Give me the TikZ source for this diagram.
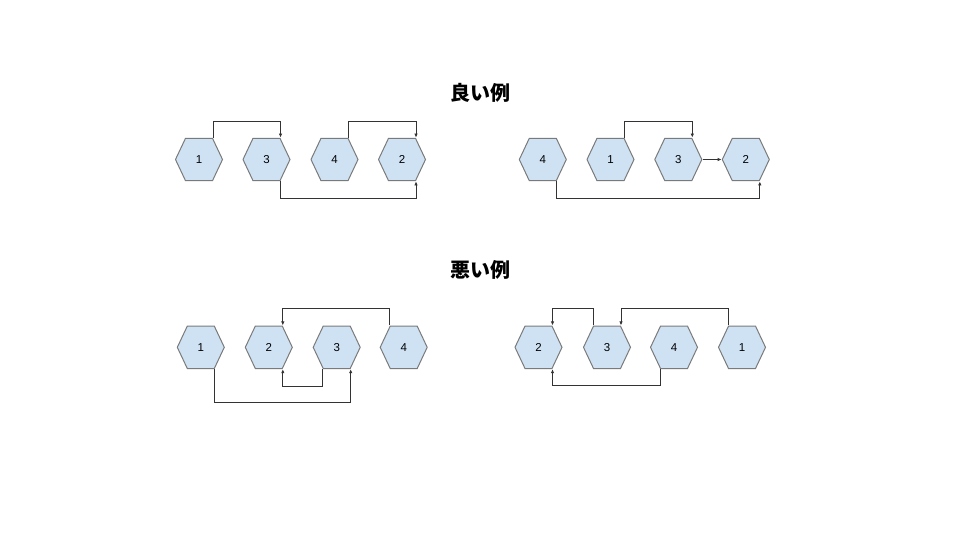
\documentclass[tikz,border=0pt]{standalone}
\usepackage{fontspec}
\setmainfont{Liberation Sans}
\newfontfamily\jpfont{Noto Sans CJK JP}
\usetikzlibrary{arrows.meta}
\definecolor{hexfill}{HTML}{CFE2F3}
\definecolor{hexline}{HTML}{7A7A7A}
\definecolor{linkcol}{HTML}{333333}
\tikzset{
  hexa/.style={rectangle, minimum width=48pt, minimum height=43.4pt, inner sep=0pt,
    font=\fontsize{11.5}{11.5}\selectfont,
    path picture={
      \draw[draw=hexline, fill=hexfill, line width=1pt]
        ([xshift=0.5pt]path picture bounding box.west)
        -- ([xshift=10.5pt,yshift=-0.5pt]path picture bounding box.north west)
        -- ([xshift=-10.5pt,yshift=-0.5pt]path picture bounding box.north east)
        -- ([xshift=-0.5pt]path picture bounding box.east)
        -- ([xshift=-10.5pt,yshift=0.5pt]path picture bounding box.south east)
        -- ([xshift=10.5pt,yshift=0.5pt]path picture bounding box.south west) -- cycle;
    }},
  link/.style={draw=linkcol, line width=0.9pt, -{Latex[length=4pt,width=3.5pt]}},
  headline/.style={font=\jpfont\bfseries\fontsize{20}{20}\selectfont}
}
\begin{document}
\begin{tikzpicture}[x=1pt,y=-1pt]
        \useasboundingbox (0,0) rectangle (960,540);

        % titles
        \node[headline] (good) at (480,92.5) {良い例};
        \node[headline] (bad) at (480,270) {悪い例};

        % good, left
        \node[hexa] (a1) at (199,159.5) {1};
        \node[hexa] (a3) at (266.5,159.5) {3};
        \node[hexa] (a4) at (334.5,159.5) {4};
        \node[hexa] (a2) at (402,159.5) {2};
        \draw[link] ([xshift=14]a1.north) -- ++(0,-16.5) -| ([xshift=14]a3.north);
        \draw[link] ([xshift=14]a4.north) -- ++(0,-16.5) -| ([xshift=14]a2.north);
        \draw[link] ([xshift=14]a3.south) -- ++(0,17) -| ([xshift=14]a2.south);

        % good, right
        \node[hexa] (b4) at (542.8,159.5) {4};
        \node[hexa] (b1) at (610.5,159.5) {1};
        \node[hexa] (b3) at (678.3,159.5) {3};
        \node[hexa] (b2) at (745.8,159.5) {2};
        \draw[link] ([xshift=14]b1.north) -- ++(0,-16.5) -| ([xshift=14]b3.north);
        \draw[link] (b3.east) -- (b2.west);
        \draw[link] ([xshift=14]b4.south) -- ++(0,17) -| ([xshift=14]b2.south);

        % bad, left
        \node[hexa] (c1) at (200.8,347.3) {1};
        \node[hexa] (c2) at (268.8,347.3) {2};
        \node[hexa] (c3) at (336.7,347.3) {3};
        \node[hexa] (c4) at (403.7,347.3) {4};
        \draw[link] ([xshift=-14]c4.north) -- ++(0,-17) -| ([xshift=14]c2.north);
        \draw[link] ([xshift=-14]c3.south) -- ++(0,17) -| ([xshift=14]c2.south);
        \draw[link] ([xshift=14]c1.south) -- ++(0,33) -| ([xshift=14]c3.south);

        % bad, right
        \node[hexa] (d2) at (538.5,347.3) {2};
        \node[hexa] (d3) at (607,347.3) {3};
        \node[hexa] (d4) at (674,347.3) {4};
        \node[hexa] (d1) at (742,347.3) {1};
        \draw[link] ([xshift=-14]d3.north) -- ++(0,-17) -| ([xshift=14]d2.north);
        \draw[link] ([xshift=-14]d1.north) -- ++(0,-17) -| ([xshift=14]d3.north);
        \draw[link] ([xshift=-14]d4.south) -- ++(0,16.5) -| ([xshift=14]d2.south);
\end{tikzpicture}
\end{document}
